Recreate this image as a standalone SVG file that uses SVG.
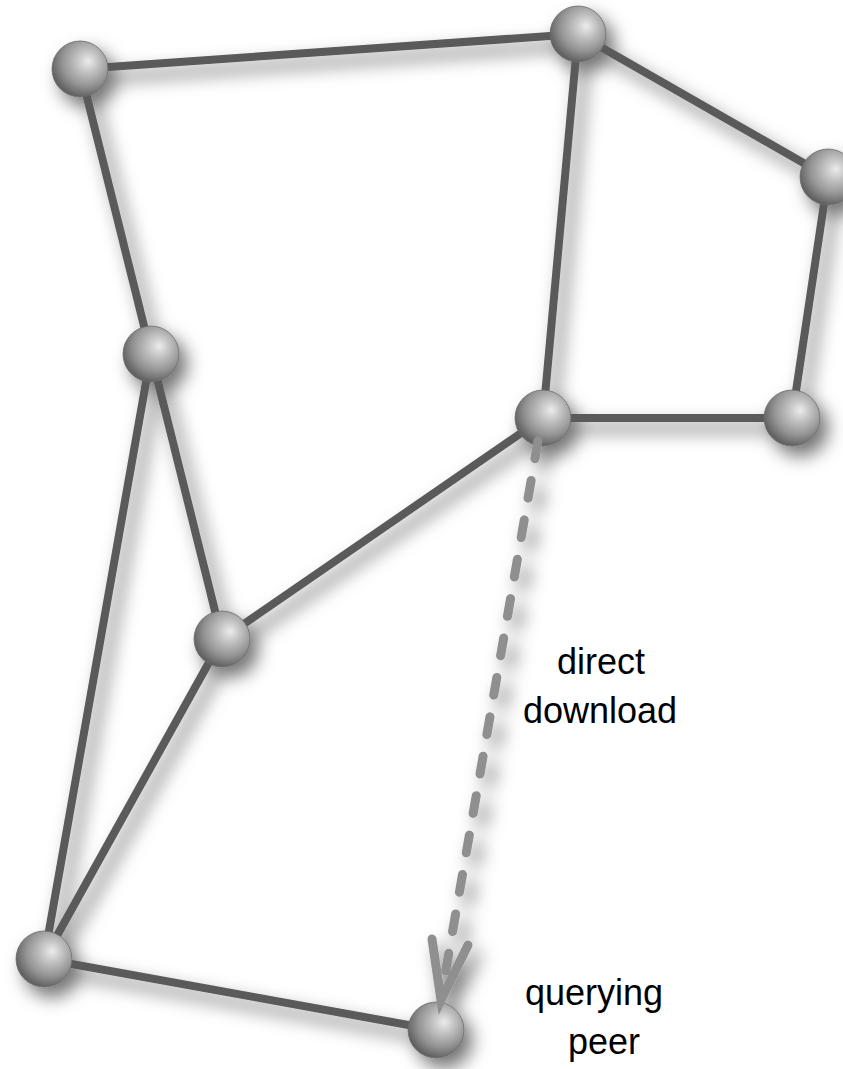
<svg xmlns="http://www.w3.org/2000/svg" width="843" height="1069" viewBox="0 0 843 1069">
  <style>
    .edge { stroke: #5a5a5a; stroke-width: 8; stroke-linecap: butt; fill: none; }
    .dl { stroke: #8f8f8f; stroke-width: 9; stroke-linecap: round; fill: none; }
    .dl-dash { stroke-dasharray: 18 22; }
    .ball { fill: url(#sphere); stroke: #6a6a6a; stroke-width: 0.8; }
    .label { font-family: "Liberation Sans", Arial, Helvetica, sans-serif; font-size: 36px; fill: #000; text-anchor: middle; }
  </style>
  <defs>
    <radialGradient id="sphere" cx="0.6" cy="0.38" r="0.62" fx="0.65" fy="0.36">
      <stop offset="0" stop-color="#ececec"/>
      <stop offset="0.3" stop-color="#c4c4c4"/>
      <stop offset="0.7" stop-color="#939393"/>
      <stop offset="1" stop-color="#626262"/>
    </radialGradient>
    <filter id="shadow" x="-10%" y="-10%" width="130%" height="130%">
      <feDropShadow dx="8" dy="10" stdDeviation="9" flood-color="#000" flood-opacity="0.55"/>
    </filter>
  </defs>

  <rect width="843" height="1069" fill="#fff"/>

  <g filter="url(#shadow)">
    <g id="connectors">
      <line class="edge" x1="80" y1="69" x2="578" y2="34"/>
      <line class="edge" x1="80" y1="69" x2="151" y2="354"/>
      <line class="edge" x1="578" y1="34" x2="828" y2="177"/>
      <line class="edge" x1="578" y1="34" x2="543" y2="418"/>
      <line class="edge" x1="828" y1="177" x2="792" y2="418"/>
      <line class="edge" x1="543" y1="418" x2="792" y2="418"/>
      <line class="edge" x1="151" y1="354" x2="222" y2="639"/>
      <line class="edge" x1="151" y1="354" x2="44" y2="959"/>
      <line class="edge" x1="222" y1="639" x2="543" y2="418"/>
      <line class="edge" x1="222" y1="639" x2="44" y2="959"/>
      <line class="edge" x1="44" y1="959" x2="436" y2="1030"/>
    </g>

    <g id="n1"><circle class="ball" cx="80" cy="69" r="28"/></g>
    <g id="n2"><circle class="ball" cx="578" cy="34" r="28"/></g>
    <g id="n3"><circle class="ball" cx="828" cy="177" r="28"/></g>
    <g id="n4"><circle class="ball" cx="151" cy="354" r="28"/></g>
    <g id="n5"><circle class="ball" cx="543" cy="418" r="28"/></g>
    <g id="n6"><circle class="ball" cx="792" cy="418" r="28"/></g>
    <g id="n7"><circle class="ball" cx="222" cy="639" r="28"/></g>
    <g id="n8"><circle class="ball" cx="44" cy="959" r="28"/></g>
    <g id="n9"><circle class="ball" cx="436" cy="1030" r="28"/></g>

    <!-- download path from the answering peer to the querying peer -->
    <g id="download-link">
      <line class="dl dl-dash" x1="538" y1="441" x2="445" y2="975"/>
      <polyline class="dl" stroke-linecap="butt" stroke-linejoin="miter" points="432,939 441,1000 468,945"/>
    </g>
  </g>

  <g id="labels">
    <text class="label" x="601" y="674">direct</text>
    <text class="label" x="600" y="723">download</text>
    <text class="label" x="594" y="1005">querying</text>
    <text class="label" x="604" y="1054">peer</text>
  </g>
</svg>
